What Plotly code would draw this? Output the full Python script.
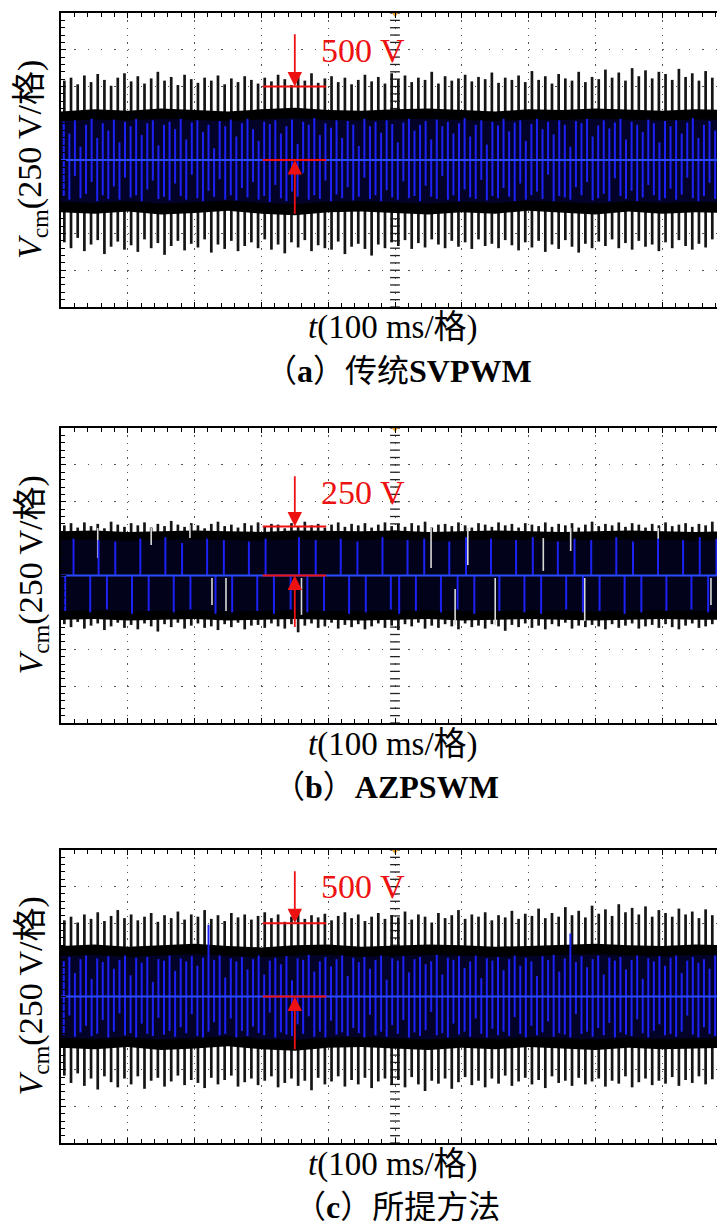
import numpy as np
import plotly.graph_objects as go

# time base: 10 divisions x 100 ms, voltage: 8 divisions x 250 V
t_spike = np.arange(100) * 10 + 5              # black transition spikes
t_blue = np.arange(120) * (1000 / 120) + 4.17  # blue trace transitions (a, c)
t_blue_b = np.arange(80) * 12.5 + 6.25         # blue trace transitions (b)
t_core = np.arange(21) * 50                    # band envelope samples

# ---------------- (a) conventional SVPWM ----------------
a_top = [
    540, 560, 515, 575, 530, 585, 545, 505, 560, 590,
    535, 570, 520, 555, 600, 540, 565, 510, 580, 550,
    525, 560, 540, 575, 515, 555, 530, 570, 545, 520,
    560, 535, 580, 550, 510, 565, 540, 590, 525, 555,
    570, 530, 560, 515, 545, 580, 535, 565, 520, 590,
    550, 575, 530, 560, 545, 600, 520, 570, 540, 555,
    580, 535, 565, 550, 595, 525, 560, 545, 575, 530,
    605, 545, 570, 520, 585, 555, 540, 600, 530, 565,
    550, 615, 560, 595, 540, 625, 570, 610, 555, 600,
    585, 545, 620, 565, 590, 540, 605, 560, 575, 550,
]
a_bot = [
    -560, -600, -530, -620, -575, -545, -640, -590, -555, -610,
    -580, -625, -540, -600, -565, -645, -585, -550, -615, -570,
    -595, -540, -630, -575, -605, -550, -620, -585, -560, -600,
    -540, -610, -575, -635, -560, -595, -545, -620, -580, -600,
    -610, -555, -640, -590, -570, -605, -650, -575, -600, -560,
    -585, -545, -605, -565, -595, -540, -575, -600, -550, -590,
    -560, -605, -540, -585, -570, -600, -545, -580, -615, -560,
    -595, -550, -625, -575, -605, -545, -590, -630, -570, -600,
    -555, -585, -540, -600, -565, -610, -550, -590, -575, -620,
    -560, -600, -545, -585, -610, -570, -595, -540, -580, -560,
]
a_core_hi = [330, 345, 335, 350, 340, 330, 345, 355, 340, 335, 345,
             350, 340, 330, 345, 340, 350, 345, 335, 345, 340]
a_core_lo = [-355, -365, -350, -370, -360, -345, -365, -375, -355, -350, -360,
             -370, -355, -365, -345, -360, -370, -350, -365, -355, -360]
a_blue_hi = [
    260, 180, 270, 90, 240, 280, 150, 250, 200, 275,
    120, 260, 230, 280, 170, 250, 270, 100, 240, 260,
    210, 280, 140, 255, 270, 190, 240, 80, 265, 230,
    275, 160, 250, 280, 210, 130, 260, 245, 270, 180,
    230, 275, 110, 260, 240, 285, 170, 250, 220, 270,
    150, 265, 240, 95, 280, 230, 260, 185, 270, 245,
    120, 255, 280, 200, 240, 265, 140, 275, 230, 260,
    180, 250, 285, 160, 240, 270, 105, 260, 235, 280,
    195, 255, 270, 130, 245, 280, 210, 260, 175, 270,
    240, 90, 265, 250, 280, 160, 235, 270, 215, 255,
    280, 140, 260, 240, 190, 275, 250, 120, 265, 230,
    270, 180, 255, 285, 150, 240, 265, 200, 275, 245,
]
a_blue_lo = [
    -250, -270, -110, -260, -230, -150, -280, -240, -265, -180,
    -270, -120, -255, -240, -280, -200, -140, -265, -250, -275,
    -160, -245, -270, -100, -260, -280, -210, -250, -130, -270,
    -240, -275, -190, -255, -150, -270, -245, -285, -170, -260,
    -280, -215, -250, -90, -270, -240, -265, -140, -280, -235,
    -260, -185, -275, -250, -120, -265, -240, -280, -205, -255,
    -270, -145, -260, -245, -280, -175, -250, -265, -110, -270,
    -240, -280, -200, -255, -265, -135, -275, -245, -260, -190,
    -250, -280, -160, -270, -240, -215, -265, -100, -280, -245,
    -255, -270, -185, -240, -150, -275, -260, -230, -280, -125,
    -245, -265, -210, -280, -255, -170, -240, -275, -260, -195,
    -270, -235, -120, -260, -280, -245, -155, -265, -250, -275,
]

# ---------------- (b) AZPSWM ----------------
b_top = [
    340, 355, 325, 360, 335, 350, 320, 365, 345, 330,
    355, 340, 360, 325, 350, 335, 370, 345, 330, 355,
    340, 320, 350, 365, 335, 345, 325, 355, 340, 360,
    330, 350, 345, 320, 355, 335, 365, 340, 350, 325,
    345, 360, 330, 350, 340, 355, 325, 345, 360, 335,
    350, 330, 355, 340, 365, 325, 345, 350, 335, 360,
    340, 325, 355, 345, 330, 360, 340, 350, 325, 355,
    345, 335, 360, 330, 350, 340, 355, 325, 345, 365,
    335, 350, 340, 360, 330, 355, 345, 325, 350, 340,
    360, 335, 345, 355, 330, 350, 340, 365, 335, 350,
]
b_bot = [
    -330, -350, -315, -360, -340, -325, -370, -345, -320, -355,
    -335, -365, -325, -345, -380, -330, -350, -320, -360, -340,
    -325, -355, -345, -370, -330, -350, -320, -365, -340, -335,
    -355, -325, -345, -360, -330, -385, -340, -325, -355, -345,
    -320, -360, -335, -350, -330, -365, -345, -325, -355, -340,
    -370, -330, -345, -320, -360, -340, -355, -330, -345, -365,
    -325, -350, -340, -360, -330, -345, -375, -335, -350, -325,
    -355, -340, -365, -330, -345, -320, -360, -340, -350, -335,
    -345, -365, -330, -355, -340, -325, -360, -345, -335, -355,
    -330, -350, -365, -340, -325, -355, -345, -330, -360, -340,
]
b_core_hi = [300, 305, 295, 300, 305, 300, 295, 305, 300, 300, 305,
             295, 300, 305, 300, 295, 300, 305, 300, 295, 300]
b_core_lo = [-300, -295, -305, -300, -295, -305, -300, -295, -300, -305, -300,
             -295, -305, -300, -295, -300, -305, -300, -295, -300, -300]
b_blue_hi = [
    0, 250, 0, 0, 240, 0, 230, 0, 0, 250,
    0, 0, 260, 0, 220, 0, 0, 250, 0, 240,
    0, 0, 230, 0, 250, 0, 0, 0, 260, 0,
    240, 0, 0, 250, 0, 230, 0, 0, 260, 0,
    0, 240, 0, 250, 0, 0, 230, 0, 260, 0,
    0, 250, 0, 0, 240, 0, 260, 0, 0, 230,
    0, 250, 0, 240, 0, 0, 260, 0, 230, 0,
    0, 250, 0, 0, 240, 0, 260, 0, 250, 0,
]
b_blue_lo = [
    -240, 0, 0, -250, 0, -230, 0, 0, -260, 0,
    -240, 0, 0, -250, 0, -230, 0, 0, -260, 0,
    -250, 0, 0, -240, 0, -260, 0, -230, 0, -250,
    0, -240, 0, 0, -260, 0, -250, 0, 0, -230,
    -260, 0, -240, 0, 0, -250, 0, -230, 0, -260,
    0, 0, -240, 0, 0, -250, 0, -260, 0, 0,
    -230, 0, -250, 0, -240, 0, 0, -260, 0, -250,
    0, 0, -240, 0, 0, -230, 0, -250, 0, -260,
]
# light gaps inside the (b) band
b_gap_t = [55, 135, 193, 226, 247, 360, 554, 590, 609, 650, 722, 763, 784, 894, 973]
b_gap_hi = [322, 322, 342, -17, -17, -17, 322, -92, 322, -17, 254, 322, -17, 322, -17]
b_gap_lo = [118, 207, 254, -200, -241, -267, 51, -336, 71, -336, 31, 166, -309, 51, -200]

# ---------------- (c) proposed method ----------------
c_top = [
    520, 545, 505, 560, 530, 575, 515, 550, 590, 535,
    560, 520, 545, 570, 510, 555, 535, 580, 525, 560,
    545, 590, 530, 555, 515, 570, 540, 560, 525, 550,
    575, 535, 560, 510, 545, 580, 530, 555, 540, 565,
    520, 550, 575, 535, 560, 515, 545, 570, 530, 555,
    540, 580, 525, 560, 545, 505, 570, 535, 555, 590,
    530, 560, 545, 575, 520, 555, 540, 585, 530, 565,
    550, 600, 535, 570, 545, 610, 555, 585, 540, 620,
    565, 595, 550, 630, 575, 605, 560, 615, 545, 590,
    570, 545, 600, 560, 580, 535, 595, 555, 570, 545,
]
c_bot = [
    -540, -590, -525, -610, -560, -635, -545, -585, -620, -560,
    -600, -545, -630, -575, -555, -615, -580, -540, -605, -570,
    -590, -625, -555, -600, -570, -540, -615, -585, -560, -605,
    -575, -545, -620, -590, -560, -610, -575, -640, -555, -600,
    -580, -545, -615, -570, -600, -555, -625, -580, -560, -605,
    -570, -620, -550, -600, -645, -575, -595, -560, -630, -585,
    -550, -605, -575, -620, -560, -595, -540, -610, -580, -555,
    -600, -570, -625, -545, -590, -575, -610, -555, -600, -580,
    -560, -615, -575, -595, -545, -620, -585, -560, -605, -575,
    -595, -550, -610, -570, -590, -545, -600, -565, -585, -555,
]
c_core_hi = [345, 355, 340, 350, 360, 345, 335, 350, 355, 340, 345,
             355, 350, 340, 345, 355, 360, 350, 345, 355, 350]
c_core_lo = [-350, -360, -345, -365, -355, -340, -360, -370, -350, -345, -355,
             -365, -350, -360, -345, -355, -365, -350, -360, -355, -350]
c_blue_hi = [
    240, 270, 160, 255, 280, 120, 260, 235, 275, 190,
    250, 280, 145, 265, 230, 270, 100, 255, 245, 280,
    175, 260, 240, 275, 210, 265, 490, 250, 280, 130,
    260, 240, 270, 185, 255, 280, 150, 245, 265, 220,
    275, 110, 260, 250, 285, 170, 240, 270, 205, 255,
    280, 140, 265, 235, 270, 190, 250, 280, 115, 260,
    245, 275, 165, 255, 270, 220, 240, 285, 150, 265,
    250, 275, 195, 240, 280, 125, 260, 245, 270, 180,
    255, 280, 210, 265, 240, 140, 275, 250, 285, 170,
    260, 430, 235, 275, 200, 255, 280, 150, 265, 245,
    270, 185, 250, 280, 120, 260, 240, 275, 210, 265,
    280, 160, 245, 270, 230, 255, 190, 280, 250, 265,
]
c_blue_lo = [
    -260, -130, -275, -245, -200, -270, -255, -160, -280, -240,
    -115, -265, -250, -280, -185, -255, -270, -145, -260, -235,
    -275, -210, -250, -120, -270, -280, -240, -175, -265, -255,
    -150, -280, -235, -270, -205, -250, -265, -110, -280, -245,
    -260, -270, -190, -255, -135, -275, -240, -280, -165, -260,
    -245, -270, -215, -250, -280, -125, -265, -240, -275, -195,
    -255, -160, -280, -245, -270, -230, -105, -265, -250, -280,
    -185, -260, -240, -275, -150, -255, -280, -220, -265, -240,
    -270, -140, -255, -280, -200, -265, -245, -170, -275, -250,
    -260, -280, -120, -255, -240, -275, -215, -265, -180, -280,
    -245, -260, -270, -155, -250, -280, -235, -190, -265, -255,
    -275, -240, -130, -260, -280, -210, -255, -270, -245, -165,
]

panels = [
    dict(top=a_top, bot=a_bot, chi=a_core_hi, clo=a_core_lo, bhi=a_blue_hi, blo=a_blue_lo,
         bt=t_blue, navy='#03032a', mark=500, label='500 V', lab_y=745, tail_top=865, tail_bot=-375,
         cap='（<b>a</b>）传统<b>SVPWM</b>', box=(5, 299), cap_x=390),
    dict(top=b_top, bot=b_bot, chi=b_core_hi, clo=b_core_lo, bhi=b_blue_hi, blo=b_blue_lo,
         bt=t_blue_b, navy='#02021a', mark=333, label='250 V', lab_y=565, tail_top=683, tail_bot=-360,
         cap='（<b>b</b>）<b>AZPSWM</b>', box=(420, 715), cap_x=378),
    dict(top=c_top, bot=c_bot, chi=c_core_hi, clo=c_core_lo, bhi=c_blue_hi, blo=c_blue_lo,
         bt=t_blue, navy='#03032a', mark=500, label='500 V', lab_y=750, tail_top=865, tail_bot=-370,
         cap='（<b>c</b>）所提方法', box=(842, 1135), cap_x=389),
]

W, H = 725, 1224
X0, X1 = 53, 721
RED = '#ee1111'
SERIF = 'Liberation Serif, Noto Sans CJK SC'


def segs(t, lo, hi):
    xs, ys = [], []
    for ti, a, b in zip(t, lo, hi):
        if a == b:
            continue
        xs += [ti, ti, None]
        ys += [a, b, None]
    return xs, ys


fig = go.Figure()
annotations = []
shapes = []
layout = {}

for i, p in enumerate(panels):
    n = '' if i == 0 else str(i + 1)
    xr, yr = 'x' + n, 'y' + n
    top_px, bot_px = p['box']

    # centre crosshair graticule
    fig.add_trace(go.Scatter(x=[500] * 41, y=np.arange(-1000, 1001, 50), mode='markers',
                             marker=dict(symbol='line-ew', size=7, line=dict(color='#222', width=1.3)),
                             xaxis=xr, yaxis=yr, hoverinfo='skip', showlegend=False))
    fig.add_trace(go.Scatter(x=np.arange(0, 1001, 20), y=[0] * 51, mode='markers',
                             marker=dict(symbol='line-ns', size=7, line=dict(color='#222', width=1.3)),
                             xaxis=xr, yaxis=yr, hoverinfo='skip', showlegend=False))

    # black spikes
    sx, sy = segs(t_spike, p['bot'], p['top'])
    fig.add_trace(go.Scatter(x=sx, y=sy, mode='lines', line=dict(color='#151515', width=2.7),
                             xaxis=xr, yaxis=yr, hoverinfo='skip', showlegend=False))
    # dense black band
    fig.add_trace(go.Scatter(x=list(t_core) + list(t_core[::-1]), y=p['chi'] + p['clo'][::-1],
                             fill='toself', fillcolor='black', line=dict(width=0), mode='lines',
                             xaxis=xr, yaxis=yr, hoverinfo='skip', showlegend=False))
    # darker blue interior of the band
    fig.add_trace(go.Scatter(x=list(t_core) + list(t_core[::-1]),
                             y=[v * 0.8 for v in p['chi']] + [v * 0.8 for v in p['clo'][::-1]],
                             fill='toself', fillcolor=p['navy'], line=dict(width=0), mode='lines',
                             xaxis=xr, yaxis=yr, hoverinfo='skip', showlegend=False))
    if i == 1:
        gx, gy = segs(b_gap_t, b_gap_lo, b_gap_hi)
        fig.add_trace(go.Scatter(x=gx, y=gy, mode='lines', line=dict(color='#d8d8d8', width=1.6),
                                 xaxis=xr, yaxis=yr, hoverinfo='skip', showlegend=False))
    # blue trace transitions
    bx, by = segs(p['bt'], p['blo'], p['bhi'])
    fig.add_trace(go.Scatter(x=bx, y=by, mode='lines', line=dict(color='#1c22f4', width=2),
                             xaxis=xr, yaxis=yr, hoverinfo='skip', showlegend=False))
    fig.add_trace(go.Scatter(x=[0, 1000], y=[0, 0], mode='lines', line=dict(color='#2a4cff', width=2.2),
                             xaxis=xr, yaxis=yr, hoverinfo='skip', showlegend=False))
    # trigger marker
    fig.add_trace(go.Scatter(x=[500], y=[1000], mode='markers', cliponaxis=False,
                             marker=dict(symbol='triangle-down', size=8, color='#f0a030'),
                             xaxis=xr, yaxis=yr, hoverinfo='skip', showlegend=False))

    ydom = [1 - bot_px / H, 1 - top_px / H]
    layout['xaxis' + n] = dict(
        domain=[X0 / W, X1 / W], range=[0, 1000], dtick=100, tick0=0, anchor=yr,
        showgrid=True, gridcolor='#555', gridwidth=1.3, griddash='1.3px,6.05px',
        showline=True, linecolor='black', linewidth=2, mirror='allticks',
        ticks='inside', ticklen=5, tickcolor='black', tickwidth=1, showticklabels=False,
        zeroline=False, minor=dict(ticks='inside', ticklen=4, dtick=20, tickcolor='black', tickwidth=1))
    layout['yaxis' + n] = dict(
        domain=ydom, range=[-1000, 1000], dtick=250, tick0=0, anchor=xr,
        showgrid=True, gridcolor='#555', gridwidth=1.3, griddash='1.3px,12.06px',
        showline=True, linecolor='black', linewidth=2, mirror='allticks',
        ticks='inside', ticklen=5, tickcolor='black', tickwidth=1, showticklabels=False,
        zeroline=False, minor=dict(ticks='inside', ticklen=4, dtick=50, tickcolor='black', tickwidth=1))

    # red measurement markers
    for lvl in (p['mark'], 0):
        shapes.append(dict(type='line', xref=xr, yref=yr, x0=302, x1=397, y0=lvl, y1=lvl,
                           line=dict(color=RED, width=2), layer='above'))
    annotations.append(dict(xref=xr, yref=yr, axref=xr, ayref=yr, x=350, y=p['mark'],
                            ax=350, ay=p['tail_top'], text='', showarrow=True, arrowhead=2,
                            arrowsize=1.6, arrowwidth=1.8, arrowcolor=RED))
    annotations.append(dict(xref=xr, yref=yr, axref=xr, ayref=yr, x=350, y=0,
                            ax=350, ay=p['tail_bot'], text='', showarrow=True, arrowhead=2,
                            arrowsize=1.6, arrowwidth=1.8, arrowcolor=RED))
    annotations.append(dict(xref=xr, yref=yr, x=386, y=p['lab_y'], text=p['label'], showarrow=False,
                            xanchor='left', yanchor='middle', font=dict(family=SERIF, size=34, color=RED)))

    # axis titles and caption
    cy = (top_px + bot_px) / 2
    annotations.append(dict(xref='paper', yref='paper', x=24 / W, y=1 - cy / H,
                            text='<i>V</i><sub>cm</sub>(250 V/格)', textangle=-90, showarrow=False,
                            xanchor='center', yanchor='middle', font=dict(family=SERIF, size=34, color='black')))
    annotations.append(dict(xref='paper', yref='paper', x=385 / W, y=1 - (bot_px + 21) / H,
                            text='<i>t</i>(100 ms/格)', showarrow=False,
                            xanchor='center', yanchor='middle', font=dict(family=SERIF, size=33, color='black')))
    annotations.append(dict(xref='paper', yref='paper', x=p['cap_x'] / W, y=1 - (bot_px + 64) / H,
                            text=p['cap'], showarrow=False,
                            xanchor='center', yanchor='middle', font=dict(family=SERIF, size=32, color='black')))

fig.update_layout(width=W, height=H, margin=dict(l=0, r=0, t=0, b=0),
                  paper_bgcolor='white', plot_bgcolor='white', showlegend=False,
                  annotations=annotations, shapes=shapes, **layout)

fig.write_html('out.html')
